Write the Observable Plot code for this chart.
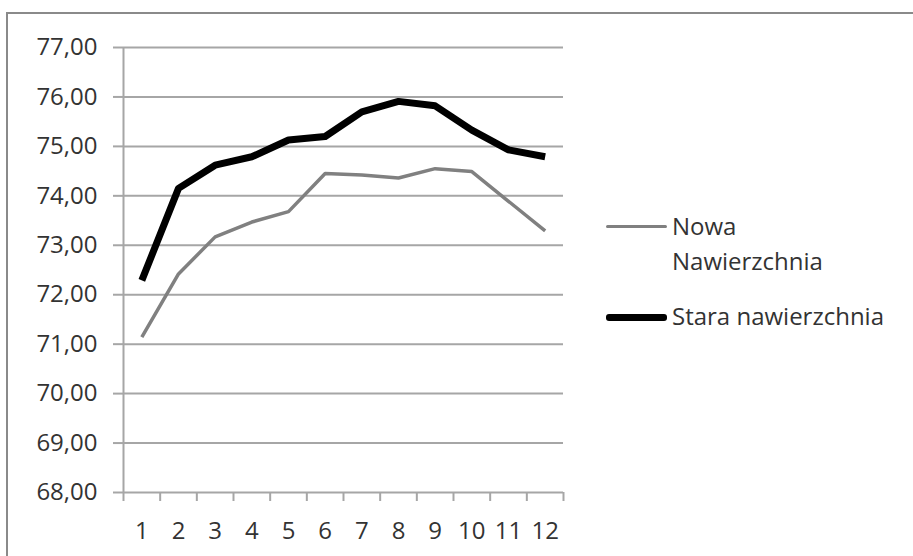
<!DOCTYPE html>
<html>
<head>
<meta charset="utf-8">
<script src="https://cdn.jsdelivr.net/npm/d3@7"></script>
<script src="https://cdn.jsdelivr.net/npm/@observablehq/plot@0.6"></script>
<style>
  html, body { margin: 0; padding: 0; background: #fff; overflow: hidden; }
  #wrap { position: relative; width: 913px; height: 556px; overflow: hidden; }
  #frame { position: absolute; left: 6px; top: 12px; width: 1200px; height: 1200px;
           border: 2px solid #8a8a8a; box-sizing: border-box; }
  #chart { position: absolute; left: 0; top: 0; }
  .legend { position: absolute; font-family: "Open Sans", sans-serif; font-size: 24px;
            color: #333; line-height: 35px; }
  .legend .swatch { position: absolute; left: 0; height: 0; }
  .legend .label { position: absolute; left: 66px; white-space: nowrap; }
</style>
</head>
<body>
<div id="wrap">
  <div id="frame"></div>
  <div id="chart"></div>
  <div class="legend" id="legend"></div>
</div>
<script>
// Measurement number (1–12) for each point along the road section
const months = [1, 2, 3, 4, 5, 6, 7, 8, 9, 10, 11, 12];
// New surface
const nowa = [71.14, 72.42, 73.17, 73.47, 73.68, 74.45, 74.42, 74.36, 74.55, 74.49, 73.89, 73.29];
// Old surface
const stara = [72.29, 74.15, 74.62, 74.79, 75.13, 75.20, 75.70, 75.91, 75.82, 75.33, 74.93, 74.79];
// Value-axis ticks
const yTicks = [68, 69, 70, 71, 72, 73, 74, 75, 76, 77];

const seriesNames = ["Nowa\nNawierzchnia", "Stara nawierzchnia"];
const seriesColors = ["#808080", "#000000"];
const seriesWidths = [3.5, 7];
const seriesValues = [nowa, stara];

const fmt = d => d.toFixed(2).replace(".", ",");
const bounds = [...months.map(m => m - 0.5), months[months.length - 1] + 0.5];

const font = `"Open Sans", sans-serif`;

const chart = Plot.plot({
  width: 913,
  height: 556,
  marginLeft: 123,
  marginRight: 350,
  marginTop: 47,
  marginBottom: 64,
  style: { fontFamily: font, fontSize: "24px", color: "#333", background: "transparent" },
  x: { type: "linear", domain: [bounds[0], bounds[bounds.length - 1]], label: null },
  y: { domain: [yTicks[0], yTicks[yTicks.length - 1]], label: null },
  marks: [
    // horizontal gridlines
    Plot.ruleY(yTicks, { x1: bounds[0], x2: bounds[bounds.length - 1], stroke: "#a6a6a6", strokeWidth: 2 }),
    Plot.axisY({ ticks: yTicks, tickSize: 10, tickPadding: 16, tickFormat: fmt, label: null,
                 stroke: "#a6a6a6", strokeWidth: 2, strokeOpacity: 1, fill: "#333" }),
    // vertical axis line
    Plot.ruleX([bounds[0]], { stroke: "#a6a6a6", strokeWidth: 2 }),
    // category boundary ticks
    Plot.axisX({ ticks: bounds, tickSize: 9, tickFormat: () => "", label: null, stroke: "#a6a6a6",
                 strokeWidth: 2, strokeOpacity: 1 }),
    // category labels
    Plot.axisX({ ticks: months, tickSize: 0, tickPadding: 29, tickFormat: d => String(d), label: null, fill: "#333" }),
    // one line per series
    ...seriesValues.map((vals, i) =>
      Plot.line(months, {
        x: d => d, y: (d, j) => vals[j],
        stroke: seriesColors[i], strokeWidth: seriesWidths[i],
        strokeLinejoin: "round", strokeLinecap: "butt"
      })
    )
  ]
});
document.getElementById("chart").append(chart);

// Legend to the right of the plot
const legend = document.getElementById("legend");
legend.style.left = "606px";
legend.style.top = "0px";
const entries = [
  { lines: seriesNames[0].split("\n"), top: 227 },
  { lines: [seriesNames[1]], top: 317 }
];
entries.forEach((e, i) => {
  const sw = document.createElement("div");
  sw.className = "swatch";
  sw.style.top = (e.top - seriesWidths[i] / 2) + "px";
  sw.style.width = "61px";
  sw.style.borderTop = `${seriesWidths[i]}px solid ${seriesColors[i]}`;
  sw.style.borderRadius = "3px";
  legend.append(sw);
  e.lines.forEach((t, j) => {
    const lb = document.createElement("div");
    lb.className = "label";
    lb.textContent = t;
    lb.style.top = (e.top - 19 + j * 35) + "px";
    legend.append(lb);
  });
});
</script>
</body>
</html>
